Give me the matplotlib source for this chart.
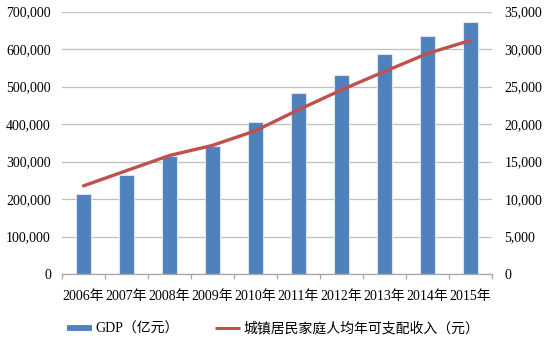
import matplotlib
matplotlib.use("Agg")
import matplotlib.pyplot as plt
from matplotlib.lines import Line2D
from matplotlib.ticker import FuncFormatter, FixedLocator

plt.rcParams['font.family'] = ['Liberation Serif', 'Noto Sans CJK SC', 'DejaVu Sans']

years = ['2006年', '2007年', '2008年', '2009年', '2010年',
         '2011年', '2012年', '2013年', '2014年', '2015年']
gdp = [214000, 265000, 315000, 342000, 405000, 482000, 532000, 586000, 634000, 673000]
income = [11750, 13780, 15800, 17150, 19100, 21900, 24550, 27000, 29400, 31150]
gdp_label = 'GDP（亿元）'
income_label = '城镇居民家庭人均年可支配收入（元）'

BLUE = '#4F81BD'
RED = '#C0504D'
GRID = '#BFBFBF'

fig = plt.figure(figsize=(5.47, 3.44), dpi=100)
ax = fig.add_axes([62/547, 1 - 274/344, (492 - 62)/547, (274 - 11.5)/344])
ax2 = ax.twinx()

x = list(range(len(years)))
ax.bar(x, gdp, width=0.36, color=BLUE, edgecolor='#DCE4EE', linewidth=0.8, zorder=2)
ax2.plot(x, income, color=RED, linewidth=2.4, solid_capstyle='round', zorder=3)

ax.set_xlim(-0.5, len(years) - 0.5)
ax.set_ylim(0, 700000)
ax2.set_ylim(0, 35000)
ax.set_yticks(range(0, 700001, 100000))
ax2.set_yticks(range(0, 35001, 5000))
fmt = FuncFormatter(lambda v, p: f'{v:,.0f}')
ax.yaxis.set_major_formatter(fmt)
ax2.yaxis.set_major_formatter(fmt)

ax.set_axisbelow(True)
ax.yaxis.grid(True, color=GRID, linewidth=0.9)
ax.xaxis.grid(False)

for a in (ax, ax2):
    for s in ('top', 'left', 'right', 'bottom'):
        a.spines[s].set_visible(False)
ax.spines['bottom'].set_visible(True)
ax.spines['bottom'].set_color('#A6A6A6')
ax.spines['bottom'].set_linewidth(0.9)

ax.set_xticks(x)
ax.set_xticklabels(years)
ax.xaxis.set_minor_locator(FixedLocator([i - 0.5 for i in range(len(years) + 1)]))
ax.tick_params(axis='x', which='major', length=0, pad=11.5, labelsize=10)
ax.tick_params(axis='x', which='minor', length=3.5, color='#A6A6A6', width=0.9)
ax.tick_params(axis='y', length=0, pad=8, labelsize=10)
ax2.tick_params(axis='y', length=0, pad=9, labelsize=10)

handles = [Line2D([], [], color=BLUE, linewidth=4.2, solid_capstyle='butt'),
           Line2D([], [], color=RED, linewidth=2.2, solid_capstyle='butt')]
fig.legend(handles, [gdp_label, income_label], loc='center',
           bbox_to_anchor=(0.5, 1 - 329/344), ncol=2, frameon=False,
           fontsize=10, handlelength=1.8, handletextpad=0.25, columnspacing=2.6)

fig.savefig('out.png', dpi=100)
